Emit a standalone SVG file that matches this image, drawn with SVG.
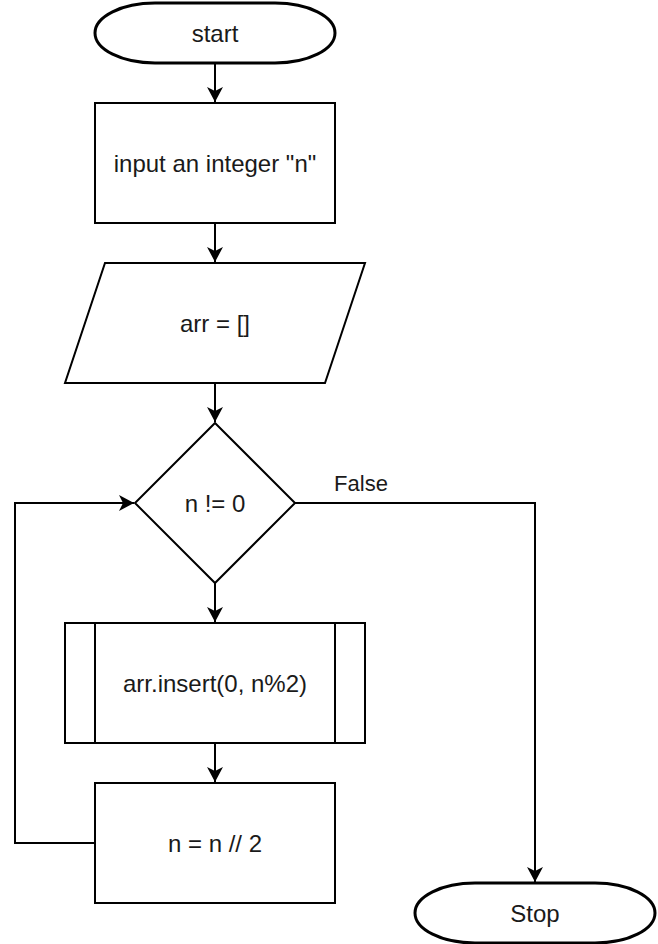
<svg xmlns="http://www.w3.org/2000/svg" width="658" height="944" viewBox="0 0 658 944">
<style>
  .shape { fill: #ffffff; stroke: #000000; stroke-width: 2; }
  .term { fill: #ffffff; stroke: #000000; stroke-width: 3; }
  .lbl { font-family: "Liberation Sans", Arial, sans-serif; font-size: 24px; fill: #1a1a1a; text-anchor: middle; }
  .elbl { font-family: "Liberation Sans", Arial, sans-serif; font-size: 22px; fill: #1a1a1a; text-anchor: middle; }
  .edge { fill: none; stroke: #000000; stroke-width: 2; }
</style>
<defs>
  <marker id="arrow" markerUnits="userSpaceOnUse" markerWidth="20" markerHeight="20" viewBox="-16 -10 20 20" refX="0" refY="0" orient="auto">
    <path d="M0,0 L-15,-8 L-11,0 L-15,8 Z" fill="#000000" stroke="none"/>
  </marker>
</defs>
<rect width="658" height="944" fill="#ffffff"/>
<g id="connectors">
  <path class="edge" d="M215,63 V102" marker-end="url(#arrow)"/>
  <path class="edge" d="M215,223 V262" marker-end="url(#arrow)"/>
  <path class="edge" d="M215,383 V422" marker-end="url(#arrow)"/>
  <path class="edge" d="M215,583 V622" marker-end="url(#arrow)"/>
  <path class="edge" d="M215,743 V782" marker-end="url(#arrow)"/>
  <path class="edge" d="M95,843 H15 V503 H134" marker-end="url(#arrow)"/>
  <path class="edge" d="M295,503 H535 V882" marker-end="url(#arrow)"/>
  <text class="elbl" x="361" y="491">False</text>
</g>
<g id="start">
  <path class="term" d="M155,3 H275 A60,30 0 0 1 275,63 H155 A60,30 0 0 1 155,3 Z"/>
  <text class="lbl" x="215" y="41.5">start</text>
</g>
<g id="input">
  <rect class="shape" x="95" y="103" width="240" height="120"/>
  <text class="lbl" x="215" y="171.5">input an integer "n"</text>
</g>
<g id="arr-init">
  <polygon class="shape" points="105,263 365,263 325,383 65,383"/>
  <text class="lbl" x="215" y="331.5">arr = []</text>
</g>
<g id="condition">
  <polygon class="shape" points="215,423 295,503 215,583 135,503"/>
  <text class="lbl" x="215" y="511.5">n != 0</text>
</g>
<g id="insert">
  <rect class="shape" x="65" y="623" width="300" height="120"/>
  <line class="shape" x1="95" y1="623" x2="95" y2="743"/>
  <line class="shape" x1="335" y1="623" x2="335" y2="743"/>
  <text class="lbl" x="215" y="691.5">arr.insert(0, n%2)</text>
</g>
<g id="divide">
  <rect class="shape" x="95" y="783" width="240" height="120"/>
  <text class="lbl" x="215" y="851.5">n = n // 2</text>
</g>
<g id="stop">
  <path class="term" d="M475,883 H595 A60,30 0 0 1 595,943 H475 A60,30 0 0 1 475,883 Z"/>
  <text class="lbl" x="535" y="921.5">Stop</text>
</g>
</svg>
